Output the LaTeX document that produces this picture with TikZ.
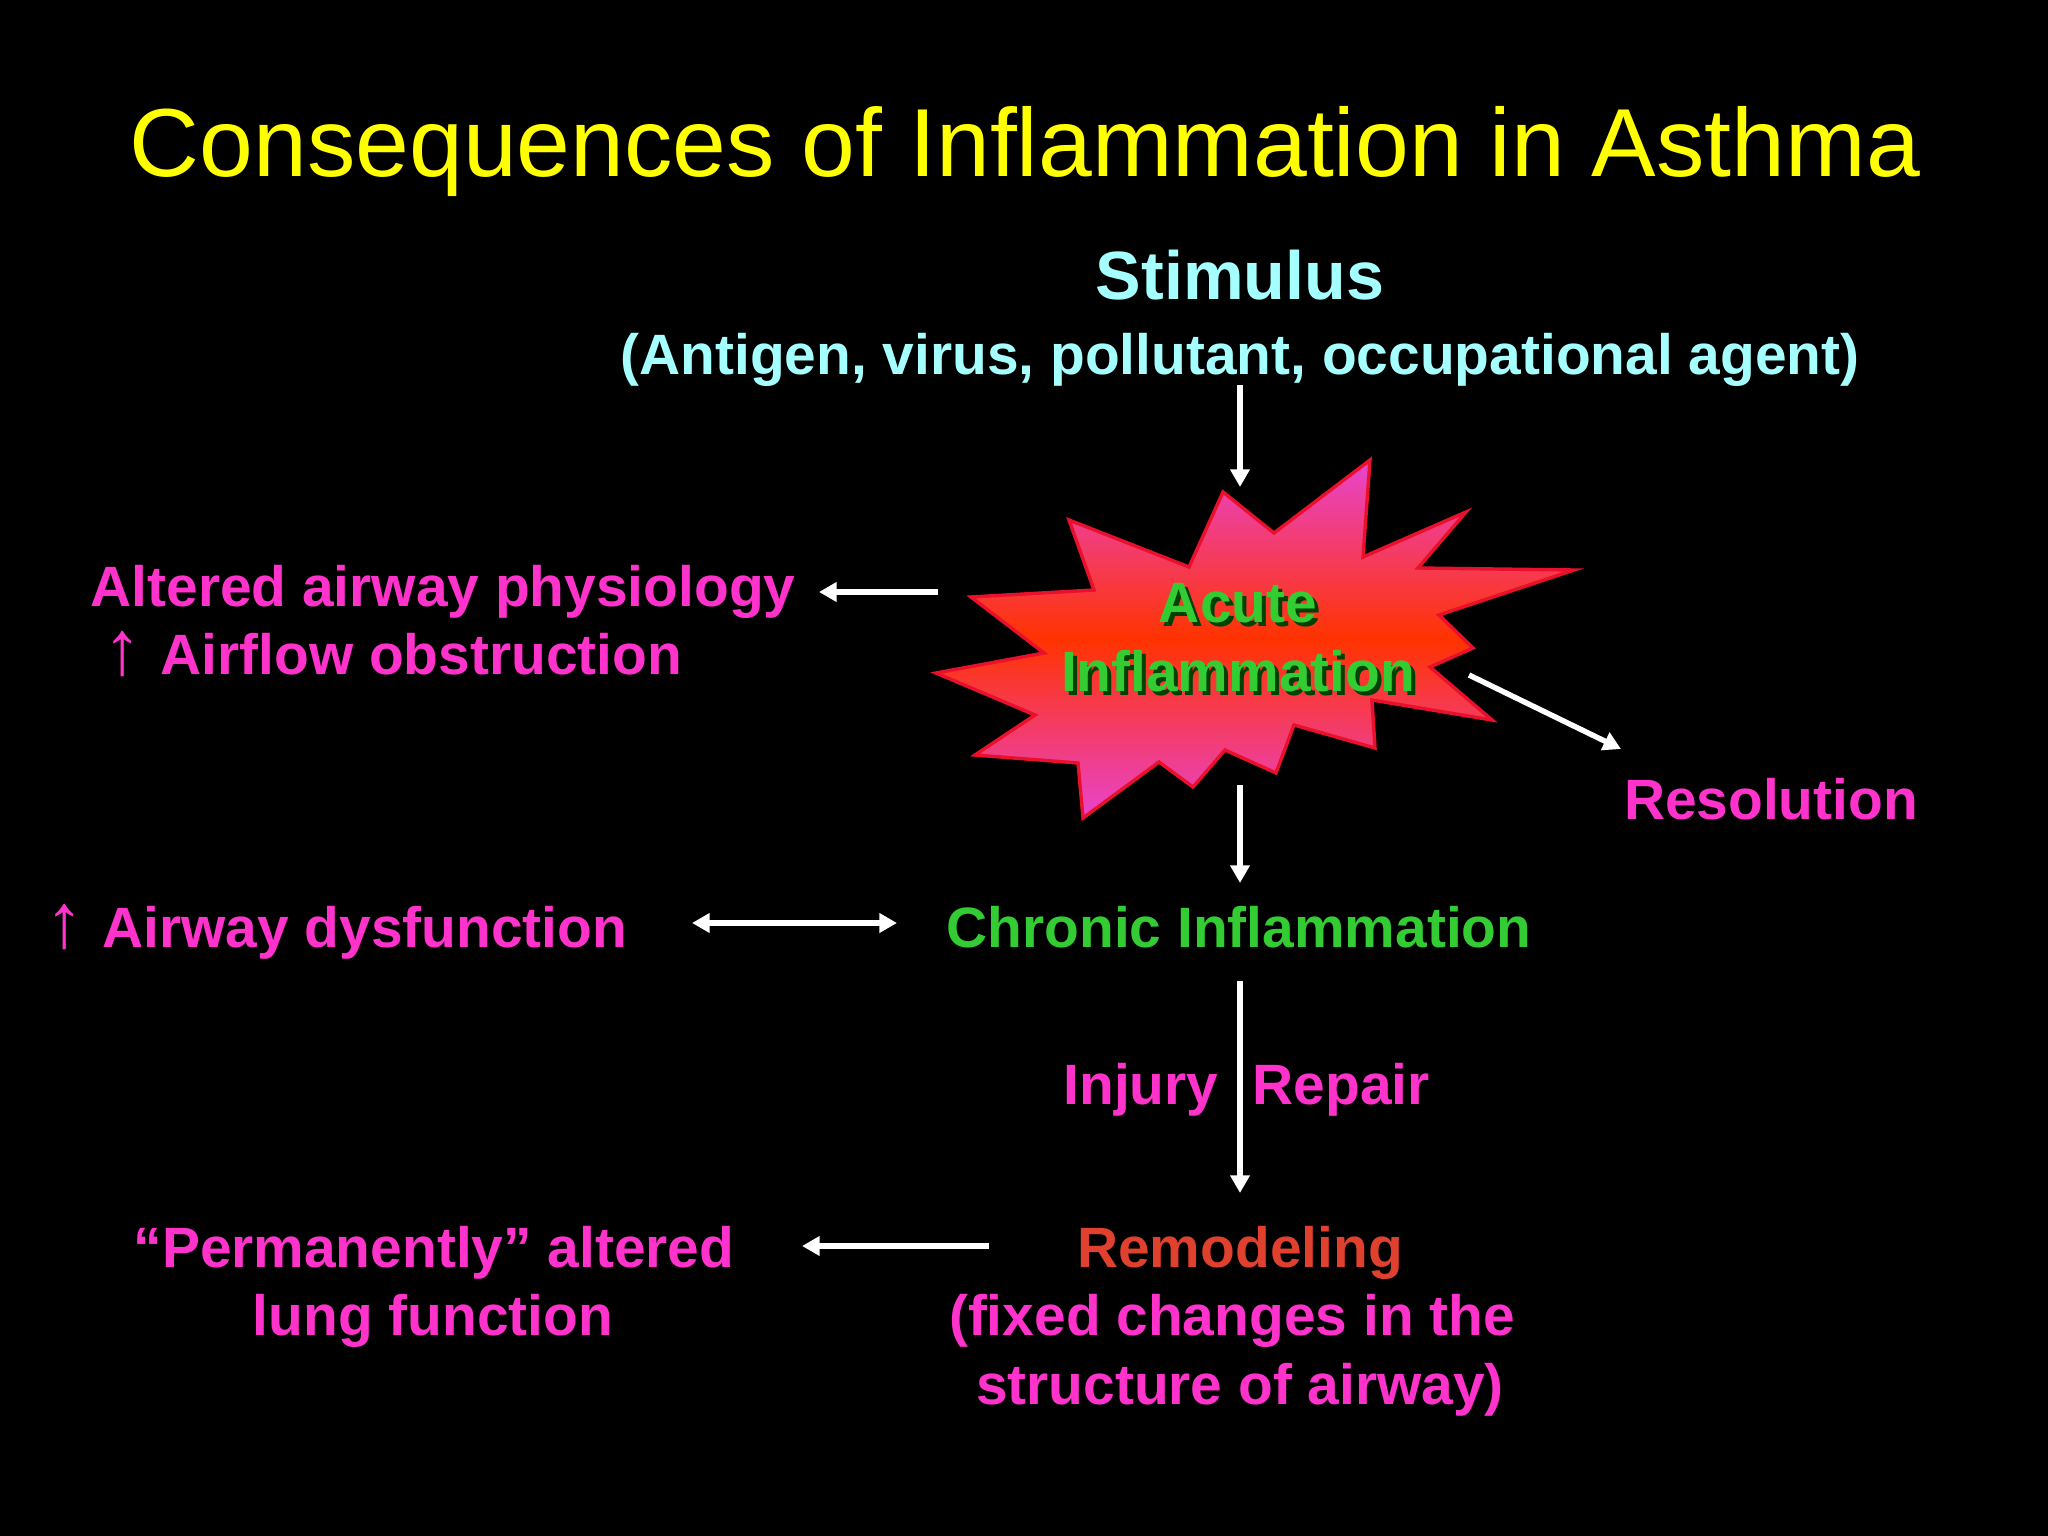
\documentclass[tikz,border=0pt]{standalone}
\usepackage{fontspec}
\setmainfont{Liberation Sans}
\usetikzlibrary{arrows.meta}
\definecolor{ttl}{HTML}{FFFF00}
\definecolor{cyn}{HTML}{A6FFFF}
\definecolor{mag}{HTML}{FF33CC}
\definecolor{grn}{HTML}{33CC33}
\definecolor{rem}{HTML}{E0402E}
\definecolor{burstmag}{HTML}{E844D0}
\definecolor{burstred}{HTML}{FF3300}
\definecolor{burstedge}{HTML}{E8102A}
\newcommand{\uparr}{\makebox[26.7pt][c]{\smash{\fontsize{27}{27}\selectfont\mdseries ↑}}}
\begin{document}
\begin{tikzpicture}[x=0.3515625pt,y=-0.3515625pt,
  lbl/.style={text=mag, font=\fontsize{20}{24}\selectfont\bfseries, inner sep=0pt},
  grnlbl/.style={lbl, text=grn},
  cynlbl/.style={lbl, text=cyn},
  arr/.style={draw=white, line width=1.9pt, -{Triangle[length=6.2pt,width=6.6pt]}},
  varr/.style={arr},
  darr/.style={draw=white, line width=1.9pt, {Triangle[length=6.2pt,width=6.6pt]}-{Triangle[length=6.2pt,width=6.6pt]}}]
\useasboundingbox (0,0) rectangle (2048,1536);
\fill[black] (0,0) rectangle (2048,1536);

% title
\node[anchor=base, inner sep=0pt, text=ttl, font=\fontsize{34}{40}\selectfont] (title) at (1025,177) {Consequences of Inflammation in Asthma};

% stimulus
\node[cynlbl, anchor=base, font=\fontsize{24}{28}\selectfont\bfseries] (stim) at (1240,300) {Stimulus};
\node[cynlbl, anchor=base] (stim2) at (1240,375) {(Antigen, virus, pollutant, occupational agent)};

% starburst
\path[draw=burstedge, line width=1.2pt, top color=burstmag, bottom color=burstmag, middle color=burstred]
  (1223,492) -- (1274,533) -- (1370,460) -- (1363,557) -- (1466,512) -- (1418,568)
  -- (1574,570) -- (1439,615) -- (1473,648) -- (1430,667) -- (1492,720) -- (1372,700)
  -- (1375,748) -- (1294,725) -- (1276,773) -- (1225,750) -- (1193,787) -- (1159,762)
  -- (1083,818) -- (1078,763) -- (975,755) -- (1035,715) -- (936,673) -- (1044,653)
  -- (971,597) -- (1094,590) -- (1069,520) -- (1189,567) -- cycle;
\node[lbl, text=black!75!green, anchor=base] at (1242,627) {Acute};
\node[lbl, text=black!75!green, anchor=base] at (1242,696) {Inflammation};
\node[grnlbl, anchor=base] (acute) at (1238,623) {Acute};
\node[grnlbl, anchor=base] (acute2) at (1238,692) {Inflammation};

% left side labels
\node[lbl, anchor=base west] (alt1) at (90,607) {Altered airway physiology};
\node[lbl, anchor=base west] (alt2) at (84,675) {\uparr Airflow obstruction};
\node[lbl, anchor=base west] (dysf) at (26,947) {\uparr Airway dysfunction};
\node[lbl, anchor=base] (perm1) at (434,1267) {“Permanently” altered};
\node[lbl, anchor=base] (perm2) at (433,1335) {lung function};

% right / center labels
\node[lbl, anchor=base] (resol) at (1771,819) {Resolution};
\node[grnlbl, anchor=base] (chron) at (1239,947) {Chronic Inflammation};
\node[lbl, anchor=base east] (injury) at (1219,1104) {Injury};
\node[lbl, anchor=base west] (repair) at (1252,1104) {Repair};
\node[lbl, text=rem, anchor=base] (remod) at (1240,1267) {Remodeling};
\node[lbl, anchor=base] (remod2) at (1232,1335) {(fixed changes in the};
\node[lbl, anchor=base] (remod3) at (1240,1404) {structure of airway)};

% connector end points
\coordinate (s1) at (1240,385);  \coordinate (e1) at (1240,487);
\coordinate (s2) at (938,592);   \coordinate (e2) at (819,592);
\coordinate (s3) at (1469,675);  \coordinate (e3) at (1621,749);
\coordinate (s4) at (1240,785);  \coordinate (e4) at (1240,883);
\coordinate (s5) at (692,923);   \coordinate (e5) at (897,923);
\coordinate (s6) at (1240,981);  \coordinate (e6) at (1240,1193);
\coordinate (s7) at (989,1246);  \coordinate (e7) at (802,1246);

\draw[varr] (s1) -- (e1);
\draw[arr] (s2) -- (e2);
\draw[arr] (s3) -- (e3);
\draw[varr] (s4) -- (e4);
\draw[darr] (s5) -- (e5);
\draw[varr] (s6) -- (e6);
\draw[arr] (s7) -- (e7);
\end{tikzpicture}
\end{document}
